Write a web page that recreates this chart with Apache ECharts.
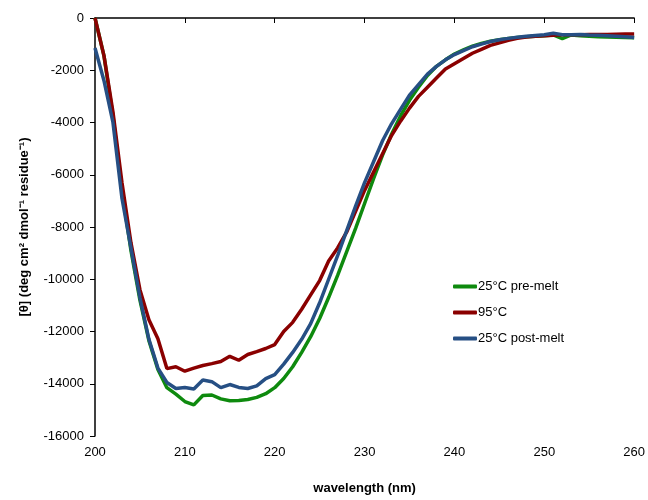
<!DOCTYPE html>
<html>
<head>
<meta charset="utf-8">
<script src="https://cdn.jsdelivr.net/npm/echarts@6/dist/echarts.min.js"></script>
<style>
html,body{margin:0;padding:0;background:#fff;}
#chart{width:648px;height:500px;}
</style>
</head>
<body>
<div id="chart"></div>
<script>
const wavelengths = [200,201,202,203,204,205,206,207,208,209,210,211,212,213,214,215,216,217,218,219,220,221,222,223,224,225,226,227,228,229,230,231,232,233,234,235,236,237,238,239,240,241,242,243,244,245,246,247,248,249,250,251,252,253,254,255,256,257,258,259,260];

const preMelt = [0,-1450,-3750,-6600,-8900,-10800,-12350,-13450,-14150,-14400,-14680,-14810,-14450,-14430,-14580,-14650,-14640,-14600,-14520,-14380,-14150,-13800,-13350,-12800,-12200,-11500,-10700,-9850,-8950,-8050,-7100,-6150,-5250,-4450,-3750,-3150,-2650,-2200,-1850,-1600,-1380,-1220,-1080,-970,-890,-830,-780,-750,-720,-700,-680,-650,-790,-650,-680,-700,-720,-730,-740,-750,-760];

const melt95 = [0,-1450,-3600,-6300,-8600,-10400,-11550,-12280,-13420,-13350,-13520,-13400,-13300,-13230,-13150,-12950,-13100,-12880,-12770,-12650,-12500,-12000,-11650,-11150,-10600,-10050,-9300,-8800,-8200,-7400,-6600,-5900,-5200,-4500,-3950,-3450,-3000,-2650,-2300,-1950,-1750,-1550,-1350,-1200,-1050,-950,-850,-780,-730,-700,-680,-660,-640,-640,-640,-630,-630,-630,-620,-610,-610];

const postMelt = [-1150,-2400,-4000,-6900,-8800,-10700,-12300,-13400,-13950,-14180,-14140,-14200,-13860,-13920,-14150,-14030,-14140,-14180,-14080,-13800,-13650,-13250,-12800,-12300,-11700,-10900,-10000,-9100,-8150,-7200,-6300,-5500,-4700,-4050,-3500,-2950,-2550,-2150,-1850,-1600,-1400,-1250,-1100,-1000,-900,-830,-780,-740,-700,-670,-640,-580,-640,-640,-630,-650,-660,-680,-700,-720,-750];

const seriesNames = ['25°C pre-melt','95°C','25°C post-melt'];
const seriesColors = ['#0e8a0e','#8a0000','#264f84'];
const seriesValues = [preMelt, melt95, postMelt];

const chart = echarts.init(document.getElementById('chart'));
const font = 'Liberation Sans, Arial, sans-serif';
chart.setOption({
  animation:false,
  backgroundColor:'#fff',
  grid:{left:95,right:13,top:18,bottom:60},
  legend:{
    orient:'vertical',left:448,top:275,
    itemWidth:24,itemHeight:4,itemGap:13,icon:'roundRect',
    textStyle:{fontFamily:font,fontSize:13,color:'#000',padding:[0,0,0,-4]},
    data:seriesNames
  },
  xAxis:{
    type:'value',min:200,max:260,interval:10,
    name:'wavelength (nm)',nameLocation:'middle',nameGap:46,
    nameTextStyle:{fontFamily:font,fontSize:13,fontWeight:'bold',color:'#000'},
    axisLine:{lineStyle:{color:'#000',width:1.5}},
    axisTick:{show:true,length:5,lineStyle:{color:'#000'}},
    axisLabel:{fontFamily:font,fontSize:13,color:'#000',margin:10},
    splitLine:{show:false}
  },
  yAxis:{
    type:'value',min:-16000,max:0,interval:2000,
    name:'[θ] (deg cm² dmol⁻¹ residue⁻¹)',nameLocation:'middle',nameGap:64,nameRotate:90,
    nameTextStyle:{fontFamily:font,fontSize:13,fontWeight:'bold',color:'#000'},
    axisLine:{show:true,onZero:false,lineStyle:{color:'#000',width:1.5}},
    axisTick:{show:true,length:5,lineStyle:{color:'#000'}},
    axisLabel:{fontFamily:font,fontSize:13,color:'#000',margin:11,formatter:v=>String(v)},
    splitLine:{show:false}
  },
  series:seriesNames.map((n,i)=>({
    name:n,type:'line',symbol:'none',smooth:false,
    lineStyle:{color:seriesColors[i],width:3.5},
    itemStyle:{color:seriesColors[i]},
    data:wavelengths.map((w,j)=>[w,seriesValues[i][j]])
  }))
});
</script>
</body>
</html>
